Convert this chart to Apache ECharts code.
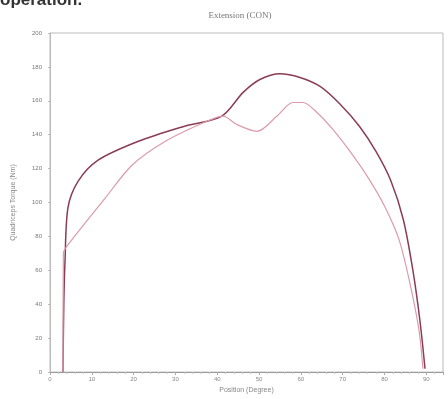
<!DOCTYPE html>
<html>
<head>
<meta charset="utf-8">
<script src="https://cdn.jsdelivr.net/npm/echarts@6/dist/echarts.min.js"></script>
<style>
  html, body { margin: 0; padding: 0; background: #fff; }
  #chart { width: 448px; height: 399px; }
</style>
</head>
<body>
<div id="chart"></div>
<script>
// knee angle (deg) vs moment
const darkX = [3.1, 3.3, 3.6, 4.3, 6.7, 11.5, 21, 31.6, 41.1, 46.2, 50.2, 55, 59.8, 64.6, 69.4, 74, 78, 81.5, 84.5, 86.8, 88.5, 89.7]
const darkY = [0, 40, 66, 97, 112.5, 125, 136, 144.6, 151, 165, 172.6, 176, 173.8, 168.5, 158, 145, 130, 113, 90, 60, 30, 2]

const lightX = [3.1, 3.2, 4.3, 13.2, 19.6, 27.5, 37.1, 41.4, 44.7, 49.5, 54.3, 58.1, 60.5, 63.9, 67.7, 71.8, 76, 80, 83.5, 86.3, 88.3, 89.2]
const lightY = [0, 70, 75, 102.6, 122, 136, 147.5, 151, 146, 142, 151, 159, 159, 153, 143, 130, 115, 98, 78, 50, 24, 2]

const xTicks = [0, 10, 20, 30, 40, 50, 60, 70, 80, 90]
const yTicks = [0, 20, 40, 60, 80, 100, 120, 140, 160, 180, 200]

const toPairs = (xs, ys) => xs.map((x, i) => [x, ys[i]])

const chart = echarts.init(document.getElementById('chart'))

const option = {
  animation: false,
  backgroundColor: '#fff',
  title: {
    text: 'Extension (CON)',
    left: 235,
    top: 6,
    textAlign: 'center',
    textStyle: { fontSize: 9, fontWeight: 'normal', color: '#777', fontFamily: 'Liberation Serif' }
  },
  graphic: [{
    type: 'text',
    left: 0,
    top: -8,
    style: { text: 'operation.', fontSize: 17, fontWeight: 'bold', fill: '#333', fontFamily: 'Liberation Sans' }
  }],
  grid: {
    left: 50, right: 5, top: 33, bottom: 23,
    show: true,
    borderColor: '#bbb',
    borderWidth: 1
  },
  xAxis: {
    type: 'value',
    min: 0,
    max: 94,
    interval: 10,
    name: 'Position (Degree)',
    nameLocation: 'middle',
    nameGap: 12,
    nameTextStyle: { fontSize: 7, color: '#888' },
    axisLine: { lineStyle: { color: '#999' } },
    axisTick: { show: true, length: 3, lineStyle: { color: '#aaa' } },
    minorTick: { show: true, splitNumber: 5, length: 2, lineStyle: { color: '#ccc' } },
    axisLabel: {
      fontSize: 6, color: '#888', margin: 4, showMaxLabel: false,
      formatter: v => xTicks.includes(v) ? String(v) : ''
    },
    splitLine: { show: false }
  },
  yAxis: {
    type: 'value',
    min: 0,
    max: 200,
    interval: 20,
    name: 'Quadriceps Torque (Nm)',
    nameLocation: 'middle',
    nameGap: 33,
    nameTextStyle: { fontSize: 7, color: '#888' },
    axisLine: { show: true, lineStyle: { color: '#bbb' } },
    axisTick: { show: true, length: 2, lineStyle: { color: '#bbb' } },
    minorTick: { show: true, splitNumber: 4, length: 1, lineStyle: { color: '#ddd' } },
    axisLabel: {
      fontSize: 6, color: '#777', margin: 8,
      formatter: v => yTicks.includes(v) ? String(v) : ''
    },
    splitLine: { show: false }
  },
  series: [
    {
      name: 'dark',
      type: 'line',
      data: toPairs(darkX, darkY),
      smooth: 0.3,
      symbol: 'none',
      lineStyle: { color: '#8a3d55', width: 1.5 }
    },
    {
      name: 'light',
      type: 'line',
      data: toPairs(lightX, lightY),
      smooth: 0.3,
      symbol: 'none',
      lineStyle: { color: '#dd9aaa', width: 1.2 }
    }
  ]
}

chart.setOption(option)
</script>
</body>
</html>
